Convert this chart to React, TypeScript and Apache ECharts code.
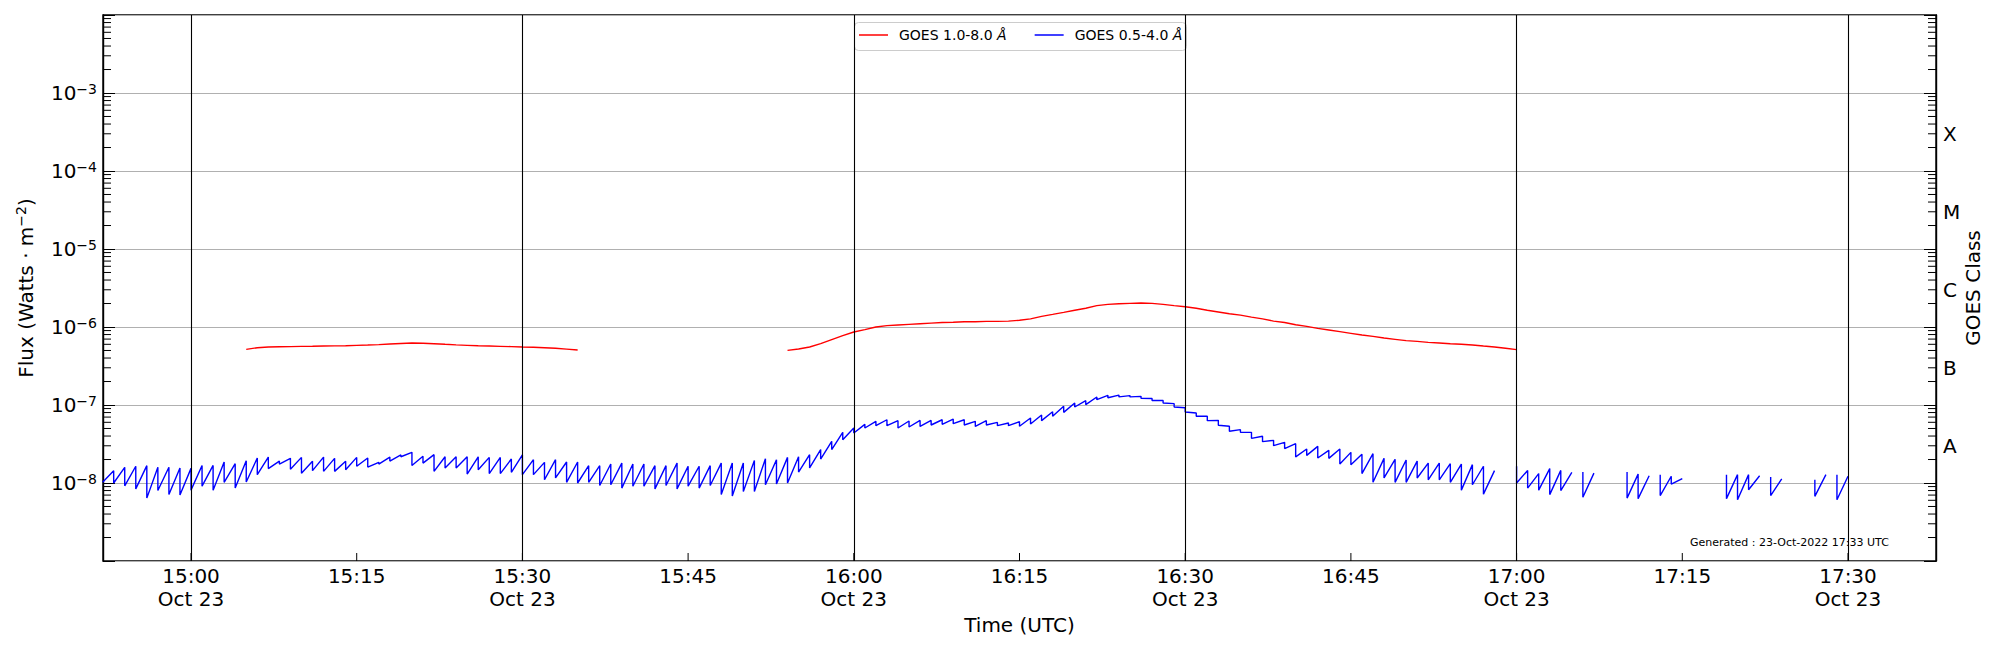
import React, { useEffect, useRef } from "react";
import * as echarts from "echarts";

const FONT = "DejaVu Sans";
const MIN = 60000;

// x extent (local wall-clock, Oct 23 2022)
const xStart = "14:52:02";
const xEnd = "17:37:58";

// major x ticks (every 15 min) and vertical reference lines
const xTickTimes = ["15:00", "15:15", "15:30", "15:45", "16:00", "16:15", "16:30", "16:45", "17:00", "17:15", "17:30"];
const vLineTimes = ["15:00", "15:30", "16:00", "16:30", "17:00", "17:30"];

// y extent
const yMin = 1e-9;
const yMax = 1e-2;

// GOES class labels (right axis)
const classLetters = ["A", "B", "C", "M", "X"];
const classValues = [3e-8, 3e-7, 3e-6, 3e-5, 3e-4];

// GOES 1.0-8.0 Å, one value per minute, in units of 1e-7 W m^-2
const RED_UNIT = 1e-7;
const redStarts = ["15:05", "15:54"];
const redSeg1 = [
  5.17, 5.43, 5.54, 5.58, 5.6, 5.65, 5.66, 5.7, 5.72, 5.76, 5.82, 5.88, 5.95, 6.06, 6.15, 6.24,
  6.2, 6.11, 6.0, 5.9, 5.82, 5.75, 5.7, 5.65, 5.6, 5.54, 5.5, 5.42, 5.33, 5.2, 5.07,
];
const redSeg2 = [
  5.02, 5.22, 5.54, 6.11, 6.88, 7.74, 8.63, 9.24, 10.0, 10.4, 10.6, 10.8, 11.0, 11.2, 11.4, 11.5,
  11.7, 11.7, 11.8, 11.8, 11.9, 12.2, 12.7, 13.7, 14.5, 15.4, 16.4, 17.4, 18.8, 19.5, 19.9, 20.1,
  20.3, 20.1, 19.5, 18.8, 18.2, 17.4, 16.4, 15.6, 14.8, 14.2, 13.4, 12.7, 11.9, 11.4, 10.7, 10.2,
  9.61, 9.15, 8.71, 8.29, 7.9, 7.59, 7.23, 6.95, 6.68, 6.55, 6.36, 6.24, 6.11, 6.0, 5.88, 5.7,
  5.54, 5.33, 5.12,
];
const redValues = [redSeg1, redSeg2];

// GOES 0.5-4.0 Å, sawtooth: value just after each minute's drop (lo) and just before the next drop (hi)
// in units of 1e-8 W m^-2
const BLUE_UNIT = 1e-8;
const blueStarts = ["14:52", "17:00", "17:06", "17:10", "17:13", "17:19", "17:23", "17:27", "17:29"];
const blueLead = [null, 1.64, 1.38, 1.38, 1.28, 1.28, 1.19, 1.1, 1.28];
const blueLo1 = [
  1.02, 1.0, 0.92, 0.84, 0.64, 0.8, 0.71, 0.7,
  0.81, 0.91, 0.81, 1.02, 0.86, 1.03, 1.28, 1.53, 1.75, 1.5, 1.33, 1.44, 1.41, 1.41, 1.48, 1.64,
  1.6, 1.75, 1.91, 2.17, 1.68, 1.8, 1.41, 1.56, 1.56, 1.3, 1.48, 1.32, 1.32, 1.37, 1.28, 1.28,
  1.1, 1.16, 1.02, 1.0, 1.02, 0.93, 0.95, 0.86, 0.91, 0.91, 0.84, 0.93, 0.84, 0.91, 0.86, 0.93,
  0.71, 0.68, 0.78, 0.78, 0.95, 0.97, 1.0, 1.38, 1.56, 2.03, 2.68, 3.59,
  4.37, 5.07, 5.43, 5.43, 5.07, 5.22, 5.32, 5.54, 5.65, 5.76, 5.54, 5.32, 5.54, 5.43, 5.43, 5.33,
  5.71, 6.3, 7.16, 8.05, 9.43, 10.1, 11.7, 12.4, 12.7, 12.7, 12.2, 11.4, 10.6, 9.43, 8.13, 7.16,
  6.3, 5.49, 4.6, 4.46, 3.74, 3.39, 3.01, 2.76, 2.16, 2.26, 2.09, 2.07, 1.75, 1.71, 1.32, 1.02,
  1.16, 1.02, 1.02, 1.16, 1.1, 1.1, 1.02, 0.81, 0.95, 0.72,
];
const blueHi1 = [
  1.44, 1.59, 1.64, 1.67, 1.59, 1.59, 1.56, 1.54,
  1.68, 1.68, 1.86, 1.77, 1.93, 2.09, 2.15, 1.91, 2.07, 2.13, 1.9, 2.15, 2.07, 1.9, 2.13, 2.09,
  1.84, 2.15, 2.29, 2.47, 2.2, 2.31, 2.17, 2.17, 2.17, 2.17, 2.13, 2.13, 2.03, 2.29, 1.99, 1.84,
  1.99, 1.86, 1.86, 1.67, 1.67, 1.75, 1.8, 1.75, 1.75, 1.67, 1.67, 1.8, 1.64, 1.64, 1.67, 1.8,
  1.8, 1.8, 1.95, 2.05, 1.99, 2.13, 2.17, 2.31, 2.68, 3.42, 4.46, 5.07,
  5.65, 6.18, 6.47, 6.3, 6.24, 6.35, 6.35, 6.47, 6.61, 6.47, 6.18, 6.3, 5.98, 5.88, 6.11, 6.81,
  7.44, 8.21, 9.61, 10.6, 11.37, 12.66, 13.3, 13.4, 13.2, 12.9, 12.1, 11.4, 10.4, 9.24, 7.9, 7.16,
  6.36, 5.33, 4.83, 4.46, 3.97, 3.52, 3.32, 3.19, 2.73, 2.95, 2.62, 2.73, 2.47, 2.33, 2.38, 2.07,
  2.01, 1.97, 1.91, 1.8, 1.8, 1.77, 1.75, 1.72, 1.64, 1.44,
];
const blueLo = [blueLo1, [1.0, 0.86, 0.81, 0.71, 0.8], [0.655], [0.64, 0.63], [0.69, 0.97], [0.63, 0.61, 0.82], [0.69], [0.675], [0.61]];
const blueHi = [blueHi1, [1.45, 1.32, 1.53, 1.45, 1.37], [1.34], [1.3, 1.24], [1.22, 1.14], [1.28, 1.28, 1.24], [1.13], [1.28], [1.22]];

const redName = "GOES 1.0-8.0 Å";
const blueName = "GOES 0.5-4.0 Å";
const generatedText = "Generated : 23-Oct-2022 17:33 UTC";

function t(hms: string): number {
  const [h, m, s] = hms.split(":").map(Number);
  return new Date(2022, 9, 23, h, m, s || 0).getTime();
}

function buildRed() {
  const out: any[] = [];
  redValues.forEach((seg, k) => {
    const t0 = t(redStarts[k]);
    seg.forEach((v, i) => out.push([t0 + i * MIN, v * RED_UNIT]));
    out.push([t0 + seg.length * MIN, null]);
  });
  return out;
}

function buildBlue() {
  const out: any[] = [];
  blueStarts.forEach((s, k) => {
    const t0 = t(s);
    const lead = blueLead[k];
    if (lead != null) out.push([t0, lead * BLUE_UNIT]);
    const lo = blueLo[k];
    const hi = blueHi[k];
    for (let i = 0; i < lo.length; i++) {
      out.push([t0 + i * MIN, lo[i] * BLUE_UNIT]);
      out.push([t0 + (i + 1) * MIN, hi[i] * BLUE_UNIT]);
    }
    out.push([t0 + lo.length * MIN + 20000, null]);
  });
  return out;
}

const minorTickValues: number[] = [];
for (let e = -9; e <= -3; e++) {
  for (let k = 2; k <= 9; k++) minorTickValues.push(Number((k * Math.pow(10, e)).toPrecision(3)));
}

const pad = (n: number) => (n < 10 ? "0" + n : "" + n);

export default function App() {
  const ref = useRef<HTMLDivElement>(null);
  useEffect(() => {
    document.body.style.margin = "0";
    document.body.style.overflow = "hidden";
    if (!ref.current) return;
    const chart = echarts.init(ref.current, null, { renderer: "svg" });
    const x0 = t(xStart);
    const option: any = {
      animation: false,
      backgroundColor: "#ffffff",
      textStyle: { fontFamily: FONT },
      grid: {
        left: 103,
        right: 64,
        top: 15,
        bottom: 89,
        show: true,
        borderColor: "#000",
        borderWidth: 1.4,
        backgroundColor: "transparent",
      },
      legend: {
        data: [redName, blueName],
        left: 859,
        top: 28,
        orient: "horizontal",
        icon: "rect",
        itemWidth: 29,
        itemHeight: 1.5,
        itemGap: 28,
        padding: 0,
        selectedMode: false,
        z: 6,
        formatter: (name: string) => name.replace("Å", "{i|Å}"),
        textStyle: {
          fontSize: 14,
          fontFamily: FONT,
          color: "#000",
          padding: [0, 0, 0, 6],
          rich: { i: { fontStyle: "italic", fontSize: 14, fontFamily: FONT, color: "#000" } },
        },
      },
      xAxis: {
        type: "time",
        min: x0,
        max: t(xEnd),
        minInterval: 16 * MIN,
        maxInterval: 16 * MIN,
        axisLine: { show: false },
        axisTick: { show: false },
        splitLine: { show: false },
        axisLabel: {
          fontSize: 20,
          fontFamily: FONT,
          color: "#000",
          lineHeight: 23,
          margin: 3,
          hideOverlap: false,
          formatter: (value: number) => {
            const d = new Date(value);
            const m = d.getMinutes();
            if (d.getSeconds() !== 0 || m % 15 !== 0) return "";
            const hm = pad(d.getHours()) + ":" + pad(m);
            return m % 30 === 0 ? hm + "\nOct 23" : hm;
          },
        },
        name: "Time (UTC)",
        nameLocation: "middle",
        nameGap: 50,
        nameTextStyle: { fontSize: 20, fontFamily: FONT, color: "#000" },
      },
      yAxis: [
        {
          type: "log",
          logBase: 10,
          min: yMin,
          max: yMax,
          position: "left",
          axisLine: { show: true, lineStyle: { color: "#000", width: 1.4 } },
          axisTick: { show: true, inside: true, length: 12, lineStyle: { color: "#000", width: 1 } },
          splitLine: { show: true, lineStyle: { color: "#b0b0b0", width: 1 } },
          axisLabel: {
            margin: 6,
            color: "#000",
            fontFamily: FONT,
            fontSize: 20,
            formatter: (v: number) => {
              const e = Math.round(Math.log10(v));
              if (e <= -9 || e >= -2) return "";
              return "{b|10}{s|−" + -e + "}";
            },
            rich: {
              b: { fontSize: 20, fontFamily: FONT, color: "#000", lineHeight: 22 },
              s: { fontSize: 14, fontFamily: FONT, color: "#000", verticalAlign: "top", lineHeight: 14 },
            },
          },
          name: "Flux (Watts · m{s|−2})",
          nameLocation: "middle",
          nameRotate: 90,
          nameGap: 65,
          nameTextStyle: {
            fontSize: 20,
            fontFamily: FONT,
            color: "#000",
            lineHeight: 24,
            rich: { s: { fontSize: 14, fontFamily: FONT, color: "#000", verticalAlign: "top", lineHeight: 14 } },
          },
        },
        {
          type: "log",
          logBase: 10,
          min: yMin,
          max: yMax,
          position: "right",
          axisLine: { show: true, lineStyle: { color: "#000", width: 1.4 } },
          axisTick: { show: true, inside: true, length: 12, lineStyle: { color: "#000", width: 1 } },
          splitLine: { show: false },
          axisLabel: { show: false },
          name: "GOES Class",
          nameLocation: "middle",
          nameRotate: 90,
          nameGap: 27,
          nameTextStyle: { fontSize: 20, fontFamily: FONT, color: "#000" },
        },
      ],
      graphic: [
        {
          type: "rect",
          left: 854,
          top: 22,
          z: 5,
          silent: true,
          shape: { width: 332, height: 28, r: 4 },
          style: { fill: "rgba(255,255,255,0.8)", stroke: "#cccccc", lineWidth: 1 },
        },
        {
          type: "text",
          left: 1690,
          top: 537,
          silent: true,
          style: { text: generatedText, fontSize: 11, fontFamily: FONT, fill: "#000" },
        },
      ],
      series: [
        {
          name: redName,
          type: "line",
          data: buildRed(),
          showSymbol: false,
          symbol: "none",
          connectNulls: false,
          lineStyle: { color: "#ff0000", width: 1.4 },
          itemStyle: { color: "#ff0000" },
          z: 3,
          markLine: {
            silent: true,
            symbol: ["none", "none"],
            label: { show: false },
            emphasis: { disabled: true },
            lineStyle: { color: "#000", width: 1.1, type: "solid" },
            data: vLineTimes.map((s) => ({ xAxis: t(s) })),
          },
        },
        {
          name: blueName,
          type: "line",
          data: buildBlue(),
          showSymbol: false,
          symbol: "none",
          connectNulls: false,
          lineStyle: { color: "#0000ff", width: 1.4 },
          itemStyle: { color: "#0000ff" },
          z: 3,
        },
        {
          name: "minorTicks",
          type: "custom",
          silent: true,
          z: 5,
          encode: { x: 0, y: 1 },
          data: minorTickValues.map((v) => [x0, v]),
          renderItem: (params: any, api: any) => {
            const cs = params.coordSys;
            const y = api.coord([api.value(0), api.value(1)])[1];
            return {
              type: "group",
              children: [
                { type: "line", shape: { x1: cs.x, y1: y, x2: cs.x + 8, y2: y }, style: { stroke: "#000", lineWidth: 1 } },
                {
                  type: "line",
                  shape: { x1: cs.x + cs.width - 8, y1: y, x2: cs.x + cs.width, y2: y },
                  style: { stroke: "#000", lineWidth: 1 },
                },
              ],
            };
          },
        },
        {
          name: "xTicks",
          type: "custom",
          silent: true,
          z: 5,
          encode: { x: 0, y: 1 },
          data: xTickTimes.map((s) => [t(s), yMin]),
          renderItem: (params: any, api: any) => {
            const cs = params.coordSys;
            const x = api.coord([api.value(0), api.value(1)])[0];
            const yb = cs.y + cs.height;
            return {
              type: "line",
              shape: { x1: x, y1: yb, x2: x, y2: yb - 8 },
              style: { stroke: "#000", lineWidth: 1 },
            };
          },
        },
        {
          name: "classLabels",
          type: "custom",
          silent: true,
          clip: false,
          z: 5,
          encode: { x: 0, y: 1 },
          data: classValues.map((v) => [x0, v]),
          renderItem: (params: any, api: any) => {
            const cs = params.coordSys;
            const y = api.coord([api.value(0), api.value(1)])[1];
            return {
              type: "text",
              x: cs.x + cs.width + 7,
              y: y,
              style: {
                text: classLetters[params.dataIndex],
                fontSize: 20,
                fontFamily: FONT,
                fill: "#000",
                align: "left",
                verticalAlign: "middle",
                textAlign: "left",
                textVerticalAlign: "middle",
              },
            };
          },
        },
      ],
    };
    chart.setOption(option);
    return () => chart.dispose();
  }, []);
  return <div ref={ref} style={{ width: 2000, height: 650 }} />;
}
